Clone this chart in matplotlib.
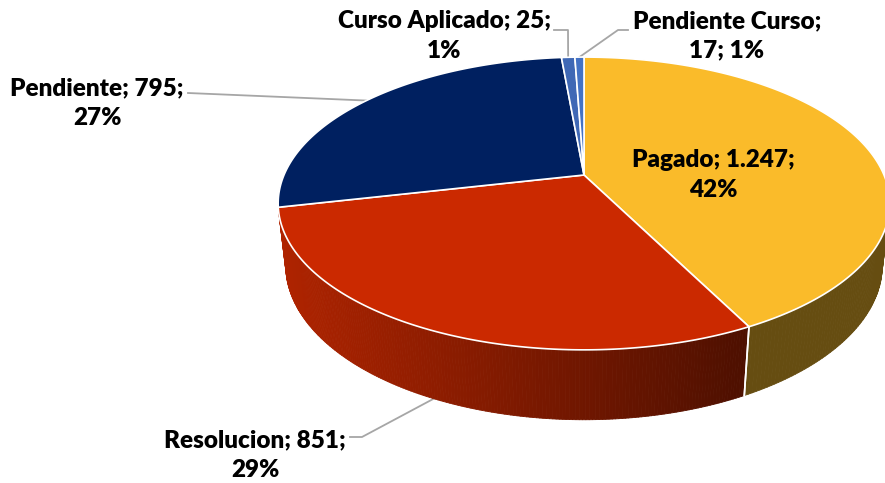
import numpy as np
import matplotlib.pyplot as plt
from matplotlib.collections import PolyCollection
from matplotlib.colors import to_rgb

# data
labels = ['Pagado', 'Resolucion', 'Pendiente', 'Curso Aplicado', 'Pendiente Curso']
values = [1247, 851, 795, 25, 17]
colors = ['#FABB2A', '#CB2900', '#002060', '#3F68B5', '#4472C4']
# (left, right) brightness of the side wall of each slice
side_shade = [(0.41, 0.41), (0.86, 0.38), (0.6, 0.6), (0.6, 0.6), (0.6, 0.6)]

# label positions (pixels) and leader lines
label_pos = [(713, 175), (255, 455), (97, 103), (444, 36), (727, 36)]
leader_start = [None, (350, 437), (188, 93), (554, 30), (628, 30)]
leader_elbow = [None, (362, 437), None, (568, 30), (618, 30)]
leader_on_side = [False, True, False, False, False]

# 3d view parameters
cx, cy = 584, 175
elev = np.radians(28)
ce, se = np.cos(elev), np.sin(elev)
D = 4.54
f = 1362
h = 0.235


def project(phi, y3):
    X = np.sin(phi)
    Z = -np.cos(phi)
    v = y3 * ce - Z * se
    w = D - (Z * ce + y3 * se)
    return cx + f * X / w, cy - f * v / w


def fmt(v):
    return '{:,}'.format(v).replace(',', '.')


plt.rcParams['font.family'] = ['Lato', 'DejaVu Sans']
fig = plt.figure(figsize=(8.85, 4.83), dpi=100)
ax = fig.add_axes([0, 0, 1, 1])
ax.set_xlim(0, 885)
ax.set_ylim(483, 0)
ax.axis('off')

total = sum(values)
bounds = np.concatenate([[0], np.cumsum(values)]) / total * 2 * np.pi
limit = -1 / (D * ce)  # side visible where cos(phi) < limit

# side walls
for i in range(len(values)):
    phis = np.linspace(bounds[i], bounds[i + 1], 200)
    vis = np.cos(phis) < limit
    if not vis.any():
        continue
    phis = phis[vis]
    xt, yt = project(phis, 0.0)
    xb, yb = project(phis, -h)
    x0, x1 = xt.min(), xt.max()
    polys, fcs = [], []
    base = np.array(to_rgb(colors[i]))
    for k in range(len(phis) - 1):
        polys.append([(xt[k], yt[k]), (xt[k + 1], yt[k + 1]), (xb[k + 1], yb[k + 1]), (xb[k], yb[k])])
        xm = (xt[k] + xt[k + 1]) / 2
        t = (xm - x0) / (x1 - x0) if x1 > x0 else 0
        fac = side_shade[i][0] + (side_shade[i][1] - side_shade[i][0]) * t
        fcs.append(base * fac)
    ax.add_collection(PolyCollection(polys, facecolors=fcs, edgecolors=fcs, linewidths=0.6))
    # white separators on the side
    for b in [bounds[i], bounds[i + 1]]:
        if np.cos(b) < limit:
            xa, ya = project(b, 0.0)
            xc, yc = project(b, -h)
            ax.plot([xa, xc], [ya, yc], color='white', lw=1.2)

# top face
for i in range(len(values)):
    phis = np.linspace(bounds[i], bounds[i + 1], 200)
    xt, yt = project(phis, 0.0)
    pts = np.column_stack([np.concatenate([[cx], xt]), np.concatenate([[cy], yt])])
    ax.add_patch(plt.Polygon(pts, closed=True, facecolor=colors[i], edgecolor='white', lw=1.2))

# labels
for i in range(len(values)):
    pct = round(values[i] / total * 100)
    if labels[i] == 'Pendiente Curso':
        txt = f'{labels[i]};\n{fmt(values[i])}; {pct}%'
    else:
        txt = f'{labels[i]}; {fmt(values[i])};\n{pct}%'
    ax.text(label_pos[i][0], label_pos[i][1], txt, ha='center', va='center',
            fontsize=17.5, fontweight='heavy', color='black', linespacing=1.42)
    if leader_start[i] is not None:
        mid = (bounds[i] + bounds[i + 1]) / 2
        ex, ey = project(mid, -h if leader_on_side[i] else 0.0)
        xs = [leader_start[i][0]]
        ys = [leader_start[i][1]]
        if leader_elbow[i] is not None:
            xs.append(leader_elbow[i][0])
            ys.append(leader_elbow[i][1])
        xs.append(ex)
        ys.append(ey)
        ax.plot(xs, ys, color='#A6A6A6', lw=1.3, zorder=0.5)

plt.savefig('out.png', dpi=100)
